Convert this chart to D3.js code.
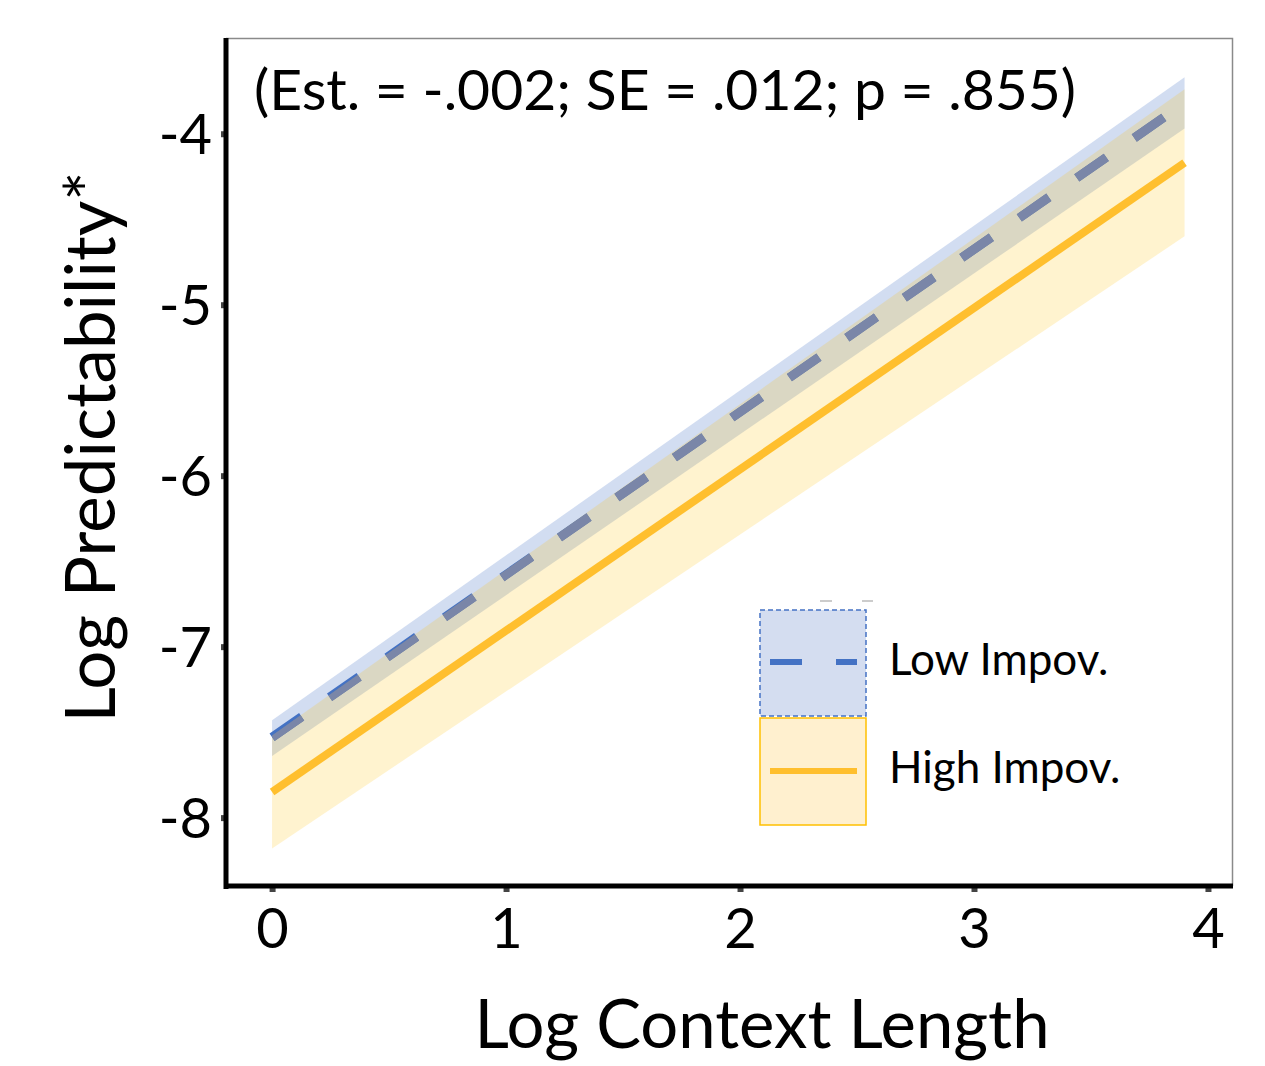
<!DOCTYPE html>
<html>
<head>
<meta charset="utf-8">
<script src="https://cdn.jsdelivr.net/npm/d3@7/dist/d3.min.js"></script>
<style>
  body { margin: 0; background: #fff; }
  text { font-family: Lato, "Open Sans", sans-serif; fill: #000; }
</style>
</head>
<body>
<div id="chart"></div>
<script>
var W = 1265, H = 1066;

// data (fitted lines with confidence bands)
var xs = [0, 3.9];
var lowFit = [-7.53, -3.82];
var lowLower = [-7.64, -3.97];
var lowUpper = [-7.43, -3.67];
var highFit = [-7.85, -4.17];
var highLower = [-8.18, -4.60];
var highUpper = [-7.52, -3.74];
var xTicks = [0, 1, 2, 3, 4];
var yTicks = [-4, -5, -6, -7, -8];
var seriesNames = ["Low Impov.", "High Impov."];
var note = "(Est. = -.002; SE = .012; p = .855)";

var blue = "#4472C4", orange = "#FFC000";

var svg = d3.select("#chart").append("svg")
  .attr("width", W)
  .attr("height", H);

var xScale = d3.scaleLinear().domain([-0.197, 4.107]).range([226, 1233]);
var yScale = d3.scaleLinear().domain([-3.44, -8.40]).range([38, 886]);

function rows(fit, lo, hi) {
  return xs.map(function(x, i) { return { x: x, fit: fit[i], lo: lo[i], hi: hi[i] }; });
}
var lowData = rows(lowFit, lowLower, lowUpper);
var highData = rows(highFit, highLower, highUpper);

var area = d3.area()
  .x(function(d) { return xScale(d.x); })
  .y0(function(d) { return yScale(d.lo); })
  .y1(function(d) { return yScale(d.hi); });
var line = d3.line()
  .x(function(d) { return xScale(d.x); })
  .y(function(d) { return yScale(d.fit); });

// plot frame (thin gray top/right)
svg.append("path")
  .attr("d", "M226,38.5H1232.5V886")
  .attr("fill", "none")
  .attr("stroke", "#8a8a8a")
  .attr("stroke-width", 1.5);

// low band + dashed line
svg.append("path").datum(lowData)
  .attr("d", area)
  .attr("fill", blue)
  .attr("fill-opacity", 0.24);
svg.append("path").datum(lowData)
  .attr("d", line)
  .attr("fill", "none")
  .attr("stroke", blue)
  .attr("stroke-width", 9)
  .attr("stroke-dasharray", "36,34");

// high band on top, then solid line
svg.append("path").datum(highData)
  .attr("d", area)
  .attr("fill", orange)
  .attr("fill-opacity", 0.19);
svg.append("clipPath").attr("id", "hiClip")
  .append("path").datum(highData).attr("d", area);
svg.append("path").datum(lowData)
  .attr("d", line)
  .attr("fill", "none")
  .attr("stroke", "#7a86a8")
  .attr("stroke-width", 9)
  .attr("stroke-dasharray", "36,34")
  .attr("clip-path", "url(#hiClip)");
svg.append("path").datum(highData)
  .attr("d", line)
  .attr("fill", "none")
  .attr("stroke", "#FFBF2E")
  .attr("stroke-width", 8);

// axes
var fmt = function(d) { return String(d); };
var xAxis = d3.axisBottom(xScale).tickValues(xTicks).tickSize(0).tickPadding(0).tickFormat(fmt);
var yAxis = d3.axisLeft(yScale).tickValues(yTicks).tickSize(0).tickPadding(0).tickFormat(fmt);

var gx = svg.append("g").attr("transform", "translate(0,886)").call(xAxis);
gx.select(".domain").remove();
gx.selectAll(".tick text")
  .attr("y", 62)
  .attr("dy", null)
  .style("font-size", "56px")
  .style("font-family", "Lato, sans-serif");
gx.selectAll(".tick").append("rect")
  .attr("x", -3).attr("y", 0).attr("width", 6).attr("height", 6)
  .attr("fill", "#444");

var gy = svg.append("g").attr("transform", "translate(226,0)").call(yAxis);
gy.select(".domain").remove();
gy.selectAll(".tick text")
  .attr("x", -14)
  .attr("dy", "0.36em")
  .style("font-size", "56px")
  .style("font-family", "Lato, sans-serif");
gy.selectAll(".tick").append("rect")
  .attr("x", -5).attr("y", -3).attr("width", 5).attr("height", 6)
  .attr("fill", "#444");

// thick axis lines
svg.append("line").attr("x1", 226).attr("x2", 226).attr("y1", 38).attr("y2", 889)
  .attr("stroke", "#000").attr("stroke-width", 5);
svg.append("line").attr("x1", 224).attr("x2", 1233).attr("y1", 886).attr("y2", 886)
  .attr("stroke", "#000").attr("stroke-width", 5);

// axis titles
svg.append("text")
  .attr("x", 762).attr("y", 1048)
  .attr("text-anchor", "middle")
  .style("font-size", "67px")
  .text("Log Context Length");
svg.append("text")
  .attr("transform", "translate(115,447) rotate(-90)")
  .attr("text-anchor", "middle")
  .style("font-size", "69px")
  .text("Log Predictability*");

// statistic note
svg.append("text")
  .attr("x", 254).attr("y", 110)
  .style("font-size", "57px")
  .text(note);

// legend
var lg = svg.append("g");
lg.append("line").attr("x1", 820).attr("x2", 832).attr("y1", 601).attr("y2", 601)
  .attr("stroke", "#999").attr("stroke-width", 1);
lg.append("line").attr("x1", 862).attr("x2", 873).attr("y1", 601).attr("y2", 601)
  .attr("stroke", "#999").attr("stroke-width", 1);
lg.append("rect")
  .attr("x", 760).attr("y", 610).attr("width", 106).attr("height", 106)
  .attr("fill", "#d4ddf0")
  .attr("stroke", blue).attr("stroke-width", 1.5)
  .attr("stroke-dasharray", "5,3");
lg.append("line").attr("x1", 770).attr("x2", 857).attr("y1", 662).attr("y2", 662)
  .attr("stroke", blue).attr("stroke-width", 6)
  .attr("stroke-dasharray", "32,34");
lg.append("rect")
  .attr("x", 760).attr("y", 718).attr("width", 106).attr("height", 107)
  .attr("fill", "#fff0cf")
  .attr("stroke", orange).attr("stroke-width", 1.5);
lg.append("line").attr("x1", 770).attr("x2", 857).attr("y1", 771).attr("y2", 771)
  .attr("stroke", "#FFBF2E").attr("stroke-width", 6);
lg.selectAll("text.lab")
  .data(seriesNames)
  .enter().append("text")
  .attr("class", "lab")
  .attr("x", 889)
  .attr("y", function(d, i) { return 675 + i * 108; })
  .style("font-size", "44px")
  .text(function(d) { return d; });
</script>
</body>
</html>
